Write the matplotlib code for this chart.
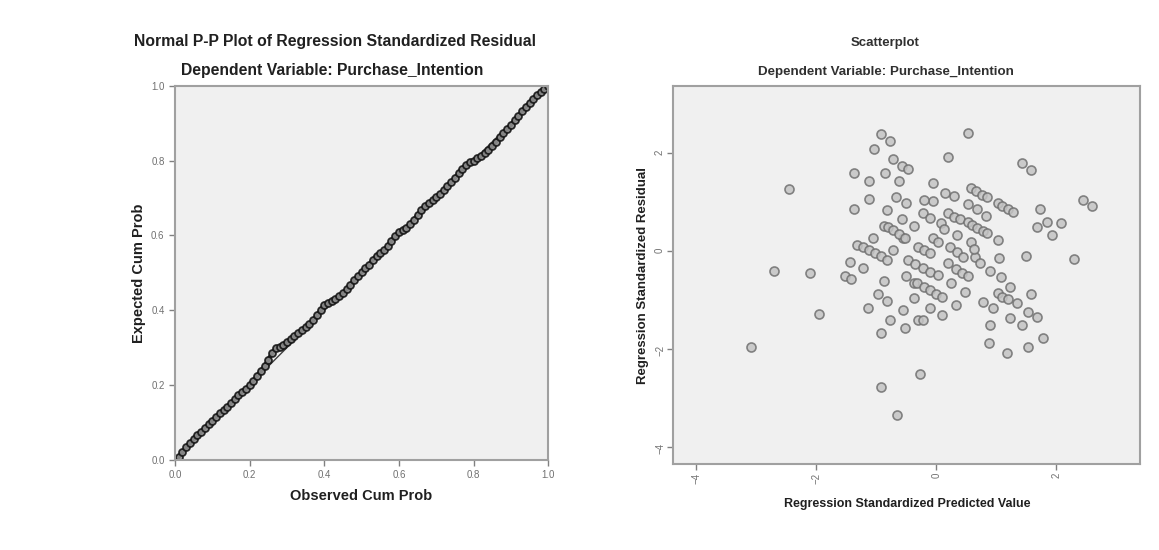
import matplotlib
matplotlib.use("Agg")
from matplotlib import pyplot as plt

plt.rcParams['font.family'] = ['Liberation Sans', 'DejaVu Sans']

# P-P plot data
observed = [0.00, 0.01, 0.02, 0.03, 0.04, 0.05, 0.06, 0.07, 0.08, 0.09,
            0.10, 0.11, 0.12, 0.13, 0.14, 0.15, 0.16, 0.17, 0.18, 0.19,
            0.20, 0.21, 0.22, 0.23, 0.24, 0.25, 0.26, 0.27, 0.28, 0.29,
            0.30, 0.31, 0.32, 0.33, 0.34, 0.35, 0.36, 0.37, 0.38, 0.39,
            0.40, 0.41, 0.42, 0.43, 0.44, 0.45, 0.46, 0.47, 0.48, 0.49,
            0.50, 0.51, 0.52, 0.53, 0.54, 0.55, 0.56, 0.57, 0.58, 0.59,
            0.60, 0.61, 0.62, 0.63, 0.64, 0.65, 0.66, 0.67, 0.68, 0.69,
            0.70, 0.71, 0.72, 0.73, 0.74, 0.75, 0.76, 0.77, 0.78, 0.79,
            0.80, 0.81, 0.82, 0.83, 0.84, 0.85, 0.86, 0.87, 0.88, 0.89,
            0.90, 0.91, 0.92, 0.93, 0.94, 0.95, 0.96, 0.97, 0.98, 0.99, 1.00]
expected = [0.000, 0.008, 0.020, 0.033, 0.045, 0.056, 0.066, 0.075, 0.086, 0.095,
            0.105, 0.115, 0.125, 0.133, 0.142, 0.152, 0.162, 0.172, 0.182, 0.190,
            0.200, 0.212, 0.225, 0.238, 0.250, 0.268, 0.285, 0.298, 0.302, 0.306,
            0.314, 0.322, 0.330, 0.338, 0.346, 0.354, 0.362, 0.373, 0.386, 0.400,
            0.413, 0.420, 0.425, 0.430, 0.437, 0.445, 0.456, 0.468, 0.480, 0.492,
            0.502, 0.512, 0.522, 0.535, 0.546, 0.553, 0.560, 0.572, 0.586, 0.598,
            0.608, 0.614, 0.620, 0.630, 0.642, 0.655, 0.667, 0.678, 0.687, 0.694,
            0.702, 0.712, 0.722, 0.732, 0.742, 0.754, 0.766, 0.778, 0.788, 0.795,
            0.800, 0.806, 0.812, 0.820, 0.828, 0.838, 0.850, 0.862, 0.873, 0.884,
            0.895, 0.908, 0.920, 0.932, 0.944, 0.955, 0.965, 0.975, 0.984, 0.992, 1.000]
ref_line = [0.0, 1.0]

# scatter data (predicted, residual)
pred = [-3.08, -2.70, -2.10, -1.95, -2.45, -0.93, -0.65, -0.28, -0.93, -0.78,
        -1.03, -1.37, -1.12, -1.37, -1.12, -0.85, -0.73, -0.58, -0.48, -0.62,
        -0.68, -0.50, -0.82, -0.58, -0.38, -0.87, -1.05, -1.32, -1.22, -1.12,
        -1.02, -0.92, -0.82, -0.72, -0.55, -1.43, -1.22, -1.52, -1.42, -0.88,
        -0.50, -0.98, -0.83, -1.13, -0.78, -0.55, -0.92, -0.53, -0.38, -0.30,
        0.53, 0.20, 1.43, 1.57, 2.45, 2.60, 1.72, 1.85, 2.07, 1.68,
        1.92, 2.30, 1.50, -0.05, 0.30, 0.57, 0.66, 0.76, 0.85, 1.02,
        1.10, 1.19, 1.28, 0.53, 0.68, 0.83, -0.05, 0.20, 0.30, 0.40,
        0.52, 0.60, 0.68, 0.77, 0.85, -0.23, -0.10, 0.07, -0.80, -0.72,
        -0.63, -0.52, -0.05, 0.03, 0.35, 0.57, 1.02, -0.30, -0.20, -0.10,
        0.23, 0.34, 0.45, 0.65, 0.73, 1.05, -0.48, -0.36, -0.23, -0.10,
        0.02, 0.20, 0.32, 0.43, 0.53, 0.90, 1.08, -0.32, -0.21, -0.10,
        0.00, 0.10, 0.25, 0.48, 0.32, -0.38, -0.10, 0.10, -0.23, 1.22,
        1.57, 1.03, 1.10, 1.20, 1.35, 0.78, 0.95, 1.53, 1.68, 1.23,
        1.43, 0.90, 1.77, 0.87, 1.53, 1.18, 0.12, 0.15, -0.20, 0.62]
resid = [-1.96, -0.40, -0.45, -1.29, 1.27, -2.78, -3.35, -2.50, 2.39, 2.25,
         2.08, 1.59, 1.43, 0.86, 1.06, 1.59, 1.88, 1.75, 1.69, 1.43,
         1.10, 0.98, 0.84, 0.65, 0.51, 0.51, 0.27, 0.12, 0.08, 0.02,
         -0.04, -0.10, -0.18, 0.02, 0.27, -0.22, -0.35, -0.50, -0.57, -0.60,
         -0.50, -0.88, -1.02, -1.16, -1.41, -1.20, -1.67, -1.57, -0.65, -1.41,
         2.41, 1.92, 1.80, 1.67, 1.04, 0.92, 0.86, 0.59, 0.57, 0.49,
         0.33, -0.16, -0.10, 1.39, 1.12, 1.29, 1.23, 1.16, 1.10, 0.98,
         0.92, 0.86, 0.80, 0.96, 0.86, 0.73, 1.02, 0.78, 0.71, 0.65,
         0.59, 0.53, 0.48, 0.42, 0.37, 0.78, 0.67, 0.57, 0.49, 0.43,
         0.35, 0.27, 0.27, 0.18, 0.33, 0.18, 0.24, 0.08, 0.02, -0.04,
         0.08, -0.02, -0.12, -0.12, -0.24, -0.14, -0.18, -0.26, -0.34, -0.42,
         -0.49, -0.24, -0.37, -0.45, -0.51, -0.41, -0.53, -0.65, -0.72, -0.80,
         -0.87, -0.94, -0.65, -0.84, -1.10, -0.96, -1.16, -1.31, -1.41, -0.73,
         -0.88, -0.86, -0.93, -0.98, -1.06, -1.04, -1.16, -1.24, -1.35, -1.37,
         -1.51, -1.51, -1.78, -1.88, -1.96, -2.08, 0.45, 1.20, 1.05, 0.05]

fig = plt.figure(figsize=(11.59, 5.5), dpi=100)
bg = '#f0f0f0'
spine_c = '#a0a0a0'
tick_c = '#808080'

# ---- left: P-P plot
ax1 = fig.add_axes([0.151, 0.164, 0.322, 0.680])
ax1.set_facecolor(bg)
ax1.plot(ref_line, ref_line, color='#404040', lw=1)
ax1.plot(observed, expected, color='#202020', lw=3, solid_capstyle='round')
ax1.plot(observed, expected, 'o', ms=5, mfc='#909090', mec='#151515', mew=1.3, alpha=0.9)
ax1.set_xlim(0, 1)
ax1.set_ylim(0, 1)
ax1.set_xticks([0.0, 0.2, 0.4, 0.6, 0.8, 1.0])
ax1.set_yticks([0.0, 0.2, 0.4, 0.6, 0.8, 1.0])
ax1.set_xticklabels(['0.0', '0.2', '0.4', '0.6', '0.8', '1.0'])
ax1.set_yticklabels(['0.0', '0.2', '0.4', '0.6', '0.8', '1.0'])
ax1.set_xlabel('Observed Cum Prob', fontsize=10.5, fontweight='bold', color='#202020', labelpad=6)
ax1.set_ylabel('Expected Cum Prob', fontsize=10.5, fontweight='bold', color='#202020', labelpad=4)
fig.text(0.289, 0.924, 'Normal P-P Plot of Regression Standardized Residual',
         ha='center', va='center', fontsize=11.3, fontweight='bold', color='#202020')
fig.text(0.287, 0.871, 'Dependent Variable: Purchase_Intention',
         ha='center', va='center', fontsize=11.3, fontweight='bold', color='#202020')

# ---- right: scatterplot
ax2 = fig.add_axes([0.581, 0.156, 0.403, 0.687])
ax2.set_facecolor(bg)
ax2.plot(pred, resid, 'o', ms=6.5, mfc='#c4c4c4', mec='#707070', mew=1.2, alpha=0.85)
ax2.set_xlim(-4.38, 3.4)
ax2.set_ylim(-4.35, 3.37)
ax2.set_xticks([-4, -2, 0, 2])
ax2.set_yticks([-4, -2, 0, 2])
ax2.set_xlabel('Regression Standardized Predicted Value', fontsize=9, fontweight='bold',
               color='#202020', labelpad=10)
ax2.set_ylabel('Regression Standardized Residual', fontsize=9.5, fontweight='bold',
               color='#202020', labelpad=4)
fig.text(0.764, 0.922, 'Scatterplot', ha='center', va='center', fontsize=9.5,
         fontweight='bold', color='#303030')
fig.text(0.764, 0.869, 'Dependent Variable: Purchase_Intention', ha='center', va='center',
         fontsize=9.6, fontweight='bold', color='#303030')

for ax in (ax1, ax2):
    for s in ax.spines.values():
        s.set_color(spine_c)
        s.set_linewidth(1.5)
    ax.tick_params(length=4, width=1, colors=tick_c, labelsize=7, labelcolor='#707070')

ax2.tick_params(axis='both', labelrotation=90, pad=2)

fig.savefig('out.png', dpi=100, facecolor='white')
